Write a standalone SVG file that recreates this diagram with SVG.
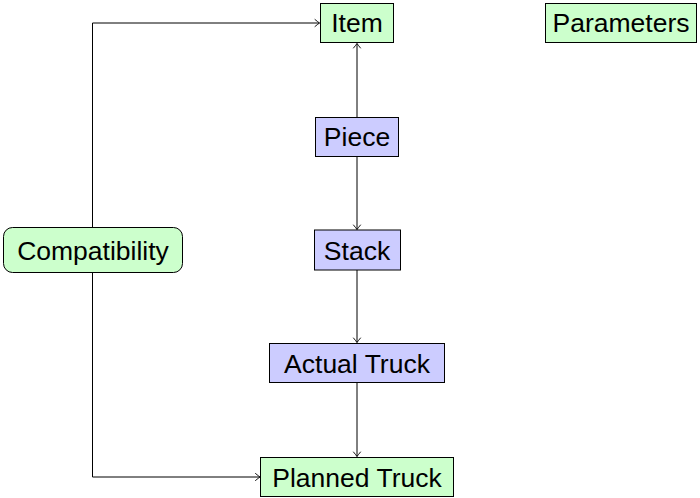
<svg xmlns="http://www.w3.org/2000/svg" width="700" height="498" viewBox="0 0 700 498">
  <style>
    .green { fill: #ccffcc; stroke: #000; stroke-width: 1; }
    .blue { fill: #ccccff; stroke: #000; stroke-width: 1; }
    .label { font-family: "Liberation Sans", Arial, sans-serif; font-size: 26.5px; fill: #000; text-anchor: middle; }
    .edge { fill: none; stroke: #000; stroke-width: 1; marker-end: url(#arrow); }
  </style>
  <defs>
    <marker id="arrow" markerUnits="userSpaceOnUse" markerWidth="10" markerHeight="10" viewBox="-6 -5 8 10" refX="0" refY="0" orient="auto">
      <path d="M -4.5 -3.5 Q -1.2 -0.8 0 0 Q -1.2 0.8 -4.5 3.5" fill="none" stroke="#000" stroke-width="0.9" stroke-linecap="round"/>
    </marker>
  </defs>

  <!-- connectors -->
  <g id="connectors">
    <path class="edge" d="M 357 117 L 357 43.5"/>
    <path class="edge" d="M 357 156 L 357 229.5"/>
    <path class="edge" d="M 357 270 L 357 342.5"/>
    <path class="edge" d="M 357 383 L 357 456.5"/>
    <path class="edge" d="M 92.5 227 L 92.5 23 L 319.5 23"/>
    <path class="edge" d="M 92.5 273 L 92.5 477 L 260 477"/>
  </g>

  <!-- nodes -->
  <g id="item">
    <rect class="green" x="320.5" y="3.5" width="73" height="39"/>
    <text class="label" x="357" y="32">Item</text>
  </g>
  <g id="parameters">
    <rect class="green" x="545.5" y="3.5" width="151" height="39"/>
    <text class="label" x="621" y="32">Parameters</text>
  </g>
  <g id="piece">
    <rect class="blue" x="315.5" y="117.5" width="83" height="39"/>
    <text class="label" x="357" y="146">Piece</text>
  </g>
  <g id="compatibility">
    <rect class="green" x="3.5" y="227.5" width="179" height="45" rx="9" ry="9"/>
    <text class="label" x="93" y="259.5">Compatibility</text>
  </g>
  <g id="stack">
    <rect class="blue" x="314.5" y="230" width="86" height="40"/>
    <text class="label" x="357" y="259.5">Stack</text>
  </g>
  <g id="actual-truck">
    <rect class="blue" x="269.5" y="343.5" width="175" height="39"/>
    <text class="label" x="357" y="373">Actual Truck</text>
  </g>
  <g id="planned-truck">
    <rect class="green" x="260.5" y="457.5" width="193" height="39"/>
    <text class="label" x="357" y="486.5">Planned Truck</text>
  </g>
</svg>
